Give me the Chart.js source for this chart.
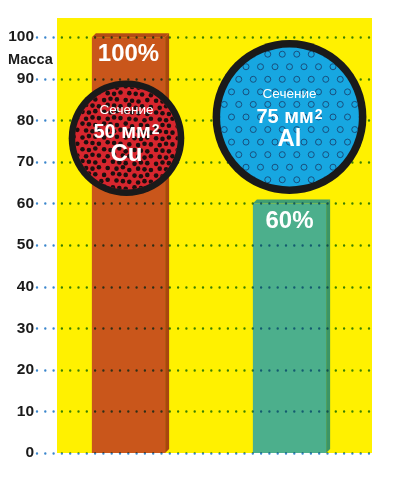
<!DOCTYPE html>
<html>
<head>
<meta charset="utf-8">
<script src="https://cdn.jsdelivr.net/npm/chart.js@4.4.1/dist/chart.umd.min.js"></script>
<style>
html,body{margin:0;padding:0;background:#fff;}
#wrap{width:394px;height:480px;position:relative;}
</style>
</head>
<body>
<div id="wrap"><canvas id="c" width="394" height="480"></canvas></div>
<script>
// ---- data ----
const categories = ['Cu', 'Al'];
const massValues = [100, 60];
const percentLabels = ['100%', '60%'];
const sectionValues = ['50', '75'];
const yTicks = [0, 10, 20, 30, 40, 50, 60, 70, 80, 90, 100];
const axisTitle = 'Масса';
const sectionWord = 'Сечение';
const unitWord = 'мм';

// ---- styling ----
const FONT = "'Liberation Sans',Arial,Helvetica,sans-serif";
const barColors = ['#c9561b', '#4caf8c'];
const sideColors = ['#a8450f', '#3b9566'];
const topColors = ['#b44c15', '#3f9e73'];
const circleStyle = [
  {val: 75.7, rUnits: 13.9, dx: -2, fill: '#d7262e', ring: 6.5, pattern: 'dots', offs: [-28, -6, 16.5]},
  {val: 80.8, rUnits: 18.5, dx: 0, fill: '#17a7e1', ring: 7.5, pattern: 'rings', offs: [-22.5, 1, 22]}
];

const decor = {
  id: 'decor',
  beforeDatasetsDraw(chart) {
    const {ctx, chartArea: a} = chart;
    ctx.save();
    ctx.fillStyle = '#fff100';
    ctx.fillRect(a.left + 9, a.top, a.right - a.left - 7, a.bottom - a.top);
    ctx.restore();
  },
  afterDatasetsDraw(chart) {
    const {ctx, chartArea: a} = chart;
    const y = chart.scales.y;
    const meta = chart.getDatasetMeta(0);
    // 3D edges of bars
    meta.data.forEach((bar, i) => {
      const left = bar.x - bar.width / 2, right = bar.x + bar.width / 2;
      const top = bar.y, bottom = bar.base;
      const d = 4;
      ctx.save();
      ctx.fillStyle = sideColors[i];
      ctx.beginPath();
      ctx.moveTo(right, top); ctx.lineTo(right + d, top - d);
      ctx.lineTo(right + d, bottom - d); ctx.lineTo(right, bottom);
      ctx.closePath(); ctx.fill();
      ctx.fillStyle = topColors[i];
      ctx.beginPath();
      ctx.moveTo(left, top); ctx.lineTo(left + d, top - d);
      ctx.lineTo(right + d, top - d); ctx.lineTo(right, top);
      ctx.closePath(); ctx.fill();
      ctx.restore();
    });
    // dotted grid lines, tinted over colours
    ctx.save();
    ctx.globalCompositeOperation = 'multiply';
    ctx.strokeStyle = '#3a86cc';
    ctx.lineWidth = 2.4;
    ctx.lineCap = 'round';
    ctx.setLineDash([0, 8.3]);
    yTicks.forEach(v => {
      const py = Math.round(y.getPixelForValue(v)) + 0.5;
      ctx.beginPath();
      ctx.moveTo(a.left - 11, py);
      ctx.lineTo(a.right + 2, py);
      ctx.stroke();
    });
    ctx.restore();

    // axis title
    ctx.save();
    ctx.fillStyle = '#1a1a1a';
    ctx.font = 'bold 14.5px ' + FONT;
    ctx.textAlign = 'left';
    ctx.textBaseline = 'middle';
    ctx.fillText(axisTitle, 8, (y.getPixelForValue(100) + y.getPixelForValue(90)) / 2 + 2);
    ctx.restore();

    // percent labels
    meta.data.forEach((bar, i) => {
      ctx.save();
      ctx.fillStyle = '#ffffff';
      ctx.font = 'bold 24px ' + FONT;
      ctx.textAlign = 'center';
      ctx.textBaseline = 'middle';
      ctx.fillText(percentLabels[i], bar.x, bar.y + 17.5);
      ctx.restore();
    });

    // cross-section circles
    meta.data.forEach((bar, i) => {
      const s = circleStyle[i];
      const cx = bar.x + s.dx, cy = y.getPixelForValue(s.val);
      const r = y.getPixelForValue(0) - y.getPixelForValue(s.rUnits);
      ctx.save();
      ctx.fillStyle = '#1a1a1a';
      ctx.beginPath(); ctx.arc(cx, cy, r, 0, Math.PI * 2); ctx.fill();
      const ri = r - s.ring;
      ctx.fillStyle = s.fill;
      ctx.beginPath(); ctx.arc(cx, cy, ri, 0, Math.PI * 2); ctx.fill();
      ctx.clip();
      if (s.pattern === 'dots') {
        ctx.fillStyle = '#1b1010';
        const sp = 7.2, rows = Math.ceil(2 * ri / (sp * 0.866)) + 2;
        for (let rI = -rows; rI <= rows; rI++) {
          const yy = cy + rI * sp * 0.866;
          const off = (rI & 1) ? sp / 2 : 0;
          for (let c = -20; c <= 20; c++) {
            const xx = cx + c * sp + off + ((rI * 3 + c * 5) % 3 - 1) * 0.8;
            ctx.beginPath(); ctx.arc(xx, yy + ((c * 7 + rI) % 3 - 1) * 0.7, 2.3, 0, Math.PI * 2); ctx.fill();
          }
        }
      } else {
        ctx.strokeStyle = '#19507f';
        ctx.lineWidth = 1;
        const sp = 14.5;
        for (let rI = -8; rI <= 8; rI++) {
          const yy = cy + rI * sp * 0.866;
          const off = (rI & 1) ? sp / 2 : 0;
          for (let c = -8; c <= 8; c++) {
            const xx = cx + c * sp + off;
            ctx.beginPath(); ctx.arc(xx, yy, 3, 0, Math.PI * 2); ctx.stroke();
          }
        }
      }
      ctx.restore();

      ctx.save();
      ctx.fillStyle = '#ffffff';
      ctx.textAlign = 'center';
      ctx.textBaseline = 'middle';
      ctx.font = '13.5px ' + FONT;
      ctx.fillText(sectionWord, cx, cy + s.offs[0]);
      const main = sectionValues[i] + ' ' + unitWord;
      ctx.font = 'bold 20px ' + FONT;
      const w1 = ctx.measureText(main).width;
      ctx.font = 'bold 14px ' + FONT;
      const w2 = ctx.measureText('2').width;
      const startX = cx - (w1 + w2 + 1) / 2;
      const ly = cy + s.offs[1];
      ctx.textAlign = 'left';
      ctx.font = 'bold 20px ' + FONT;
      ctx.fillText(main, startX, ly);
      ctx.font = 'bold 14px ' + FONT;
      ctx.fillText('2', startX + w1 + 1, ly - 2.5);
      ctx.textAlign = 'center';
      ctx.font = 'bold 24px ' + FONT;
      ctx.fillText(categories[i], cx, cy + s.offs[2]);
      ctx.restore();
    });
  }
};

new Chart(document.getElementById('c'), {
  type: 'bar',
  data: {
    labels: categories,
    datasets: [{
      data: massValues,
      backgroundColor: barColors,
      borderWidth: 0,
      barPercentage: 0.455,
      categoryPercentage: 1
    }]
  },
  options: {
    responsive: false,
    animation: false,
    devicePixelRatio: 1,
    layout: {padding: {top: 18, bottom: 27, right: 24, left: 0}},
    plugins: {legend: {display: false}, tooltip: {enabled: false}},
    scales: {
      x: {display: false},
      y: {
        min: 0, max: 104.6,
        afterBuildTicks(scale) { scale.ticks = yTicks.map(v => ({value: v})); },
        afterFit(scale) { scale.width = 48; scale.paddingTop = 0; scale.paddingBottom = 0; },
        border: {display: false},
        grid: {display: false, drawTicks: false},
        ticks: {
          padding: 14,
          color: '#1a1a1a',
          font: {family: FONT, size: 15.5, weight: 'bold'},
          callback: v => String(v)
        }
      }
    }
  },
  plugins: [decor]
});
</script>
</body>
</html>
